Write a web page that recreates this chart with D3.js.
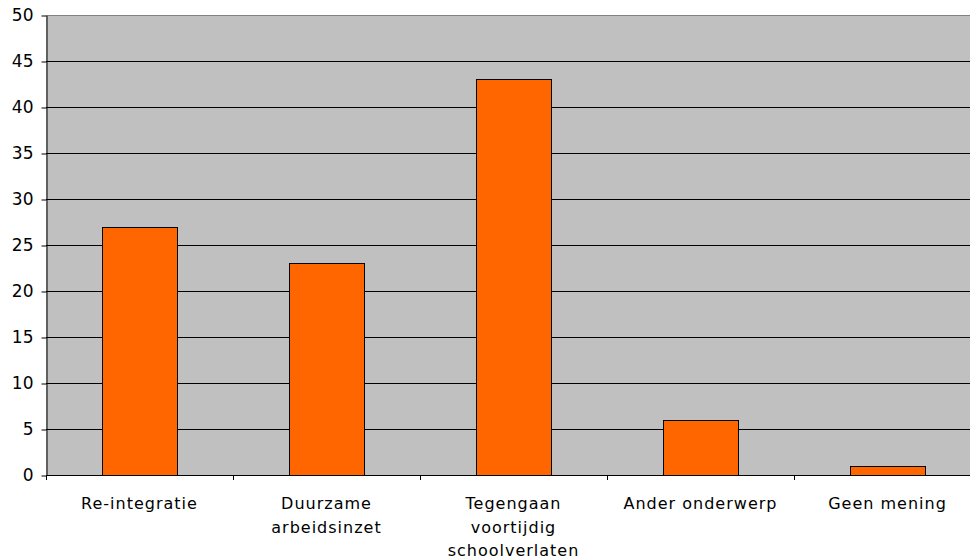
<!DOCTYPE html>
<html>
<head>
<meta charset="utf-8">
<script src="https://cdn.jsdelivr.net/npm/d3@7/dist/d3.min.js"></script>
<style>
  body { margin: 0; background: #fff; }
  svg { display: block; }
  text { font-family: "DejaVu Sans", Verdana, sans-serif; fill: #000; }
</style>
</head>
<body>
<div class="canvas"></div>
<script>
const categories = [
  ["Re-integratie"],
  ["Duurzame", "arbeidsinzet"],
  ["Tegengaan", "voortijdig", "schoolverlaten"],
  ["Ander onderwerp"],
  ["Geen mening"],
];
const values = [27, 23, 43, 6, 1];
const yTicks = [0, 5, 10, 15, 20, 25, 30, 35, 40, 45, 50];

const dims = { width: 970, height: 560 };
const plot = { left: 46, right: 981, top: 15, bottom: 475 };

const svg = d3
  .select(".canvas")
  .append("svg")
  .attr("width", dims.width)
  .attr("height", dims.height);

const x = d3
  .scaleBand()
  .domain(d3.range(values.length))
  .range([plot.left, plot.right])
  .paddingInner(0)
  .paddingOuter(0);

const y = d3.scaleLinear().domain([0, 50]).range([plot.bottom, plot.top]);

// plot background
svg
  .append("rect")
  .attr("x", plot.left)
  .attr("y", plot.top)
  .attr("width", plot.right - plot.left)
  .attr("height", plot.bottom - plot.top)
  .attr("fill", "#c0c0c0");

// gridlines
svg
  .append("g")
  .selectAll("line")
  .data(yTicks.filter((d) => d > 0))
  .enter()
  .append("line")
  .attr("x1", plot.left)
  .attr("x2", plot.right)
  .attr("y1", (d) => Math.round(y(d)) + 0.5)
  .attr("y2", (d) => Math.round(y(d)) + 0.5)
  .attr("stroke", (d) => (d === 50 ? "#808080" : "#000"))
  .attr("stroke-width", 1);

// bars
const bw = 75;
svg
  .append("g")
  .selectAll("rect")
  .data(values)
  .enter()
  .append("rect")
  .attr("x", (d, i) => Math.round(x(i) + x.bandwidth() / 2 - bw / 2) + 0.5)
  .attr("y", (d) => Math.round(y(d)) + 0.5)
  .attr("width", bw)
  .attr("height", (d) => Math.round(y(0)) - Math.round(y(d)))
  .attr("fill", "#ff6600")
  .attr("stroke", "#000")
  .attr("stroke-width", 1);

// y axis
const yAxis = d3
  .axisLeft(y)
  .tickValues(yTicks)
  .tickSize(5)
  .tickPadding(8)
  .tickSizeOuter(0);

const yg = svg
  .append("g")
  .attr("transform", `translate(${plot.left + 0.5},0.5)`)
  .call(yAxis);
yg.selectAll("text").style("font-size", "17px");

// x axis
const xg = svg.append("g");
xg.append("line")
  .attr("x1", plot.left)
  .attr("x2", plot.right)
  .attr("y1", plot.bottom + 0.5)
  .attr("y2", plot.bottom + 0.5)
  .attr("stroke", "#000");

xg.selectAll(".tick")
  .data(d3.range(values.length + 1))
  .enter()
  .append("line")
  .attr("x1", (d) => (d < values.length ? x(d) : plot.right) + 0.5)
  .attr("x2", (d) => (d < values.length ? x(d) : plot.right) + 0.5)
  .attr("y1", plot.bottom)
  .attr("y2", plot.bottom + 5)
  .attr("stroke", "#000");

const labels = xg
  .selectAll(".label")
  .data(categories)
  .enter()
  .append("text")
  .attr("text-anchor", "middle")
  .attr("x", (d, i) => x(i) + x.bandwidth() / 2)
  .attr("y", 509)
  .style("font-size", "16px")
  .style("letter-spacing", "1px");

labels
  .selectAll("tspan")
  .data((d) => d)
  .enter()
  .append("tspan")
  .attr("x", function () {
    return d3.select(this.parentNode).attr("x");
  })
  .attr("dy", (d, i) => (i === 0 ? 0 : 23.5))
  .text((d) => d);
</script>
</body>
</html>
